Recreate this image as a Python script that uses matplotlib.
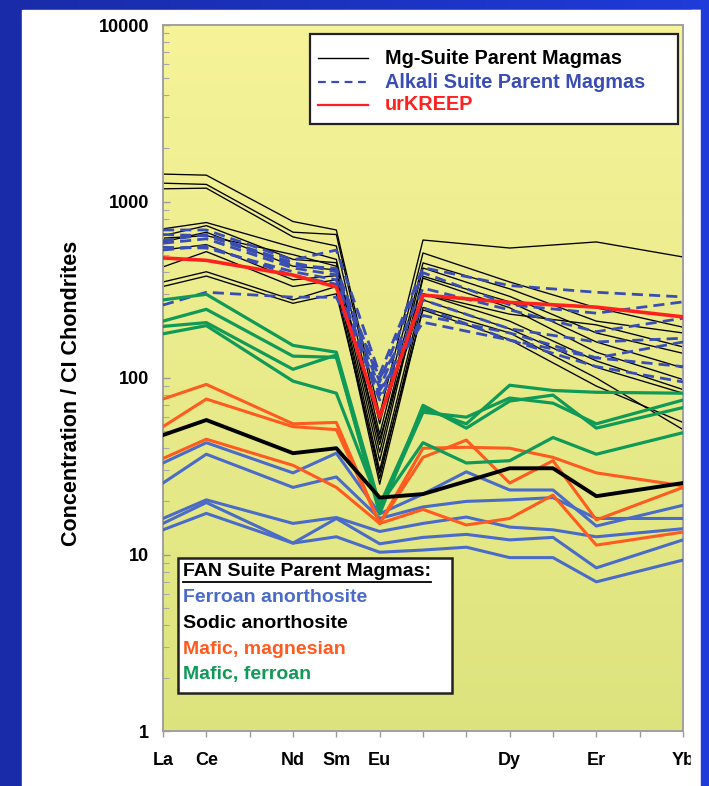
import numpy as np
import matplotlib
matplotlib.use("Agg")
import matplotlib.pyplot as plt
from matplotlib.patches import Rectangle
from matplotlib.lines import Line2D

plt.rcParams['font.family'] = ['Liberation Sans', 'DejaVu Sans']
plt.rcParams['font.weight'] = 'bold'

# REE sequence on the x axis (Pm omitted)
elements = ["La", "Ce", "Pr", "Nd", "Sm", "Eu", "Gd", "Tb", "Dy", "Ho", "Er", "Tm", "Yb"]
tick_labels = ["La", "Ce", "", "Nd", "Sm", "Eu", "", "", "Dy", "", "Er", "", "Yb"]
y_ticks = [1, 10, 100, 1000, 10000]
y_tick_labels = ["1", "10", "100", "1000", "10000"]

# Mg-suite, alkali-suite and urKREEP parent magmas (concentration / CI chondrite)
suite_elements = ["La", "Ce", "Nd", "Sm", "Eu", "Gd", "Dy", "Er", "Yb"]
mg_suite = [
    [1430, 1410, 770, 690, 62, 605, 545, 590, 485],
    [1270, 1250, 670, 650, 55, 511, 350, 250, 194],
    [1180, 1190, 630, 560, 48, 449, 320, 210, 180],
    [700, 760, 550, 470, 42, 420, 290, 180, 138],
    [640, 730, 470, 450, 38, 377, 270, 160, 114],
    [590, 670, 430, 410, 34, 368, 250, 140, 98],
    [531, 570, 360, 380, 30, 300, 210, 125, 86],
    [426, 520, 330, 360, 27, 277, 190, 115, 82],
    [350, 400, 277, 330, 25, 251, 180, 100, 51],
    [330, 378, 265, 300, 29, 243, 165, 90, 56],
    [620, 640, 500, 430, 45, 300, 230, 200, 150],
]
alkali_suite = [
    [690, 690, 466, 531, 105, 422, 334, 306, 288],
    [650, 640, 435, 418, 95, 395, 260, 233, 270],
    [580, 615, 420, 384, 88, 323, 243, 183, 218],
    [550, 545, 400, 360, 80, 277, 190, 160, 168],
    [531, 560, 380, 340, 75, 226, 180, 130, 160],
    [259, 306, 287, 287, 85, 207, 164, 116, 95],
    [600, 650, 450, 400, 100, 250, 164, 130, 116],
]
urkreep = [479, 464, 383, 328, 60, 295, 268, 252, 222]

# FAN-suite parent magmas
fan_elements = ["La", "Ce", "Nd", "Sm", "Eu", "Gd", "Tb", "Dy", "Ho", "Er", "Yb"]
ferroan_anorthosite = [
    [33, 43, 29, 37.5, 17, 22, 29.4, 23.2, 23.2, 14.5, 19],
    [25.4, 37, 24, 27.5, 16, 18.6, 20, 20.4, 21, 16, 16],
    [16, 20.4, 15, 16.2, 13.5, 15, 16.3, 14.3, 13.8, 12.6, 14],
    [15, 19.7, 11.6, 16, 11.5, 12.5, 13, 12.1, 12.5, 8.4, 12.1],
    [13.8, 17.1, 11.6, 12.6, 10.3, 10.6, 11, 9.6, 9.6, 7, 9.3],
]
sodic_anorthosite = [47.5, 57.8, 37.5, 40, 21, 22, 26, 30.8, 30.8, 21.4, 25.4]
mafic_magnesian = [
    [76, 92, 55, 56, 15, 35.5, 44.5, 25.4, 34, 15.7, 24],
    [53, 76, 53, 51, 15, 40, 40.5, 40, 35.5, 29, 24.5],
    [35, 45, 32, 24, 15, 18, 14.7, 16, 21.7, 11.3, 13.4],
]
mafic_ferroan = [
    [277, 298, 153, 140, 19, 67, 55, 91, 85, 83, 82],
    [210, 245, 133, 131, 18, 64, 60, 77, 72, 55, 75],
    [196, 206, 112, 135, 17, 70, 52, 74, 80, 52, 68],
    [178, 198, 96, 82, 19, 43, 33, 34, 46, 37, 49],
]

C_FERROAN = "#4A6BC8"
C_MAFMG = "#FF5A1F"
C_MAFFE = "#109A58"
C_KREEP = "#FF2020"
C_ALKALI = "#3A4DB5"

W, H = 709, 786
fig = plt.figure(figsize=(W / 100, H / 100), dpi=100)

# slide background: blue frame with a white panel
bg = fig.add_axes([0, 0, 1, 1], zorder=-10)
blue = np.array([[0.10, 0.17, 0.66], [0.12, 0.23, 0.85]])
t = np.linspace(0, 1, 256)[None, :, None]
grad = blue[0] * (1 - t) + blue[1] * t
bg.imshow(grad, extent=[0, 1, 0, 1], aspect='auto')
bg.add_patch(Rectangle((22 / W, 0), (701 - 22) / W, 1 - 10 / H, color='white'))
bg.set_xlim(0, 1)
bg.set_ylim(0, 1)
bg.axis('off')

rect = [163 / W, 1 - 731 / H, 520 / W, 706 / H]

# yellow gradient plot background
pbg = fig.add_axes(rect, zorder=-5)
top = np.array([0.965, 0.953, 0.60])
bot = np.array([0.865, 0.890, 0.49])
s = np.linspace(0, 1, 256)[:, None, None]
pgrad = top * (1 - s) + bot * s
pbg.imshow(np.repeat(pgrad, 2, axis=1), extent=[0, 1, 0, 1], aspect='auto')
pbg.axis('off')

ax = fig.add_axes(rect)
ax.patch.set_alpha(0)
ax.set_yscale('log')
ax.set_ylim(1, 10000)
ax.set_xlim(0, len(elements) - 1)

def xs(names):
    return [elements.index(n) for n in names]

sx = xs(suite_elements)
fx = xs(fan_elements)

for v in mg_suite:
    ax.plot(sx, v, color='black', lw=0.95, zorder=2)
for v in alkali_suite:
    ax.plot(sx, v, color=C_ALKALI, lw=2.0, ls=(0, (4, 2.2)), zorder=3)
for v in ferroan_anorthosite:
    ax.plot(fx, v, color=C_FERROAN, lw=2.2, zorder=4)
for v in mafic_magnesian:
    ax.plot(fx, v, color=C_MAFMG, lw=2.2, zorder=5)
for v in mafic_ferroan:
    ax.plot(fx, v, color=C_MAFFE, lw=2.3, zorder=5)
ax.plot(fx, sodic_anorthosite, color='black', lw=2.8, zorder=6)
ax.plot(sx, urkreep, color=C_KREEP, lw=2.6, zorder=7)

# axes styling
ax.set_xticks(range(len(elements)))
ax.set_xticklabels(tick_labels, fontsize=13, fontweight='bold')
ax.tick_params(axis='x', direction='out', length=4, width=1, color='#9a9a9a', pad=11)
ax.set_yticks(y_ticks)
ax.set_yticklabels(y_tick_labels, fontsize=13, fontweight='bold')
ax.yaxis.set_minor_locator(matplotlib.ticker.LogLocator(base=10, subs=np.arange(2, 10)))
ax.yaxis.set_minor_formatter(matplotlib.ticker.NullFormatter())
ax.tick_params(axis='y', which='major', direction='in', length=5, width=1, color='#9a9a9a', pad=10)
ax.tick_params(axis='y', which='minor', direction='in', length=4, width=0.8, color='#a8a8a8')
for sp in ax.spines.values():
    sp.set_color('#a0a0a0')
    sp.set_linewidth(1.4)

fig.text(72 / W, 1 - 393 / H, "Concentration / CI Chondrites", rotation=90,
         ha='center', va='center', fontsize=15.5, fontweight='bold')

def P(x, y):
    return ((x - 163) / 520, (731 - y) / 706)

# legend: lunar highland parent magmas
x0, y0 = P(310, 124)
x1, y1 = P(678, 34)
ax.add_patch(Rectangle((x0, y0), x1 - x0, y1 - y0, transform=ax.transAxes,
                       facecolor='white', edgecolor='#222222', lw=1.6, zorder=20))
entries = [
    ("Mg-Suite Parent Magmas", 'black', dict(color='black', lw=1.0), 58),
    ("Alkali Suite Parent Magmas", C_ALKALI, dict(color=C_ALKALI, lw=1.6, ls=(0, (3.5, 2.5))), 82),
    ("urKREEP", C_KREEP, dict(color=C_KREEP, lw=1.6), 105),
]
for label, tc, style, yy in entries:
    a, b = P(318, yy)
    c, _ = P(368, yy)
    ax.add_line(Line2D([a, c], [b, b], transform=ax.transAxes, zorder=21, **style))
    tx, ty = P(385, yy)
    ax.text(tx, ty, label, transform=ax.transAxes, color=tc, fontsize=14.3,
            fontweight='bold', va='center', ha='left', zorder=21)

# legend: FAN suite
x0, y0 = P(178, 693)
x1, y1 = P(452, 558)
ax.add_patch(Rectangle((x0, y0), x1 - x0, y1 - y0, transform=ax.transAxes,
                       facecolor='white', edgecolor='#222222', lw=1.8, zorder=20))
fan_entries = [
    ("FAN Suite Parent Magmas:", 'black', 572),
    ("Ferroan anorthosite", C_FERROAN, 597),
    ("Sodic anorthosite", 'black', 623),
    ("Mafic, magnesian", C_MAFMG, 649),
    ("Mafic, ferroan", C_MAFFE, 675),
]
title_txt = None
for label, tc, yy in fan_entries:
    tx, ty = P(183, yy)
    t_ = ax.text(tx, ty, label, transform=ax.transAxes, color=tc, fontsize=14,
                 fontweight='bold', va='center', ha='left', zorder=21)
    if title_txt is None:
        title_txt = t_

fig.canvas.draw()
bb = title_txt.get_window_extent()
inv = ax.transAxes.inverted()
(ux0, uy0), (ux1, _) = inv.transform([(bb.x0, bb.y0 - 1), (bb.x1, bb.y0 - 1)])
ax.add_line(Line2D([ux0, ux1], [uy0, uy0], transform=ax.transAxes, color='black',
                   lw=1.3, zorder=21))

# right edge of the slide panel
fig.add_artist(Rectangle((691 / W, 0), 10 / W, 1 - 10 / H, transform=fig.transFigure,
                         color='white', zorder=10))
fig.add_artist(Rectangle((701 / W, 0), 8 / W, 1, transform=fig.transFigure,
                         color=(0.12, 0.23, 0.85), zorder=11))

fig.savefig("out.png", dpi=100)
